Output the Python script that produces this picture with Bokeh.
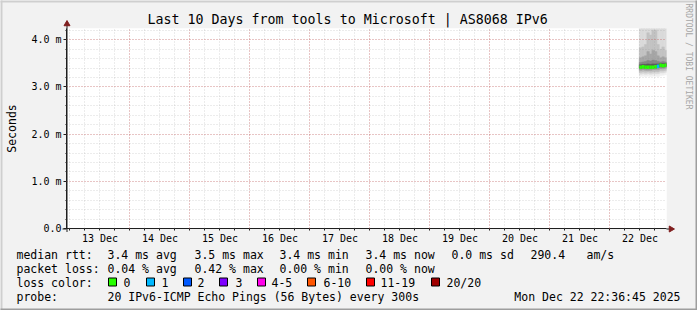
import math
from bokeh.plotting import figure
from bokeh.models import Range1d, FixedTicker, Grid, Title
from bokeh.core.properties import value
from bokeh.embed import file_html
from bokeh.resources import INLINE

# ---------------- data ----------------
title_text = "Last 10 Days from tools to Microsoft | AS8068 IPv6"
day_labels = ["13 Dec", "14 Dec", "15 Dec", "16 Dec", "17 Dec",
              "18 Dec", "19 Dec", "20 Dec", "21 Dec", "22 Dec"]
day_index = [0, 1, 2, 3, 4, 5, 6, 7, 8, 9]          # days after 13 Dec 00:00
ytick_values = [0, 1, 2, 3, 4]                       # milliseconds
ytick_labels = ["0.0", "1.0 m", "2.0 m", "3.0 m", "4.0 m"]

# time axis in hours since 13 Dec 00:00
range_start_h = -1.3875     # Dec 12 22:36:45
range_end_h = 238.6125      # Dec 22 22:36:45
y_max_ms = 4.24

# hourly consolidated samples on 22 Dec (hours since 13 Dec 00:00)
bin_start_h = [227.75, 228.75, 229.75, 230.75, 231.75, 232.75,
               233.75, 234.75, 235.75, 236.75, 237.75]
# sorted-ping quantiles (ms)
ping_01 = [3.22, 3.23, 3.22, 3.23, 3.22, 3.23, 3.23, 3.22, 3.24, 3.25, 3.26]
ping_03 = [3.27, 3.28, 3.27, 3.28, 3.27, 3.28, 3.28, 3.28, 3.30, 3.30, 3.31]
ping_05 = [3.31, 3.32, 3.31, 3.32, 3.31, 3.32, 3.32, 3.32, 3.34, 3.34, 3.35]
ping_07 = [3.35, 3.36, 3.35, 3.35, 3.35, 3.36, 3.36, 3.36, 3.38, 3.38, 3.39]
ping_09 = [3.38, 3.39, 3.38, 3.38, 3.38, 3.39, 3.39, 3.40, 3.41, 3.41, 3.42]
ping_10 = [3.40, 3.41, 3.40, 3.40, 3.40, 3.40, 3.41, 3.42, 3.44, 3.43, 3.44]
median_ms = [3.42, 3.43, 3.42, 3.42, 3.42, 3.42, 3.43, 3.44, 3.46, 3.45, 3.46]
ping_11 = [3.47, 3.48, 3.48, 3.49, 3.48, 3.49, 3.49, 3.49, 3.50, 3.50, 3.50]
ping_12 = [3.52, 3.53, 3.54, 3.56, 3.55, 3.57, 3.56, 3.54, 3.53, 3.54, 3.53]
ping_14 = [3.62, 3.64, 3.66, 3.75, 3.70, 3.78, 3.75, 3.66, 3.62, 3.64, 3.62]
ping_16 = [3.83, 3.85, 3.90, 4.15, 4.10, 4.20, 4.20, 3.90, 3.80, 3.85, 3.78]
ping_18 = [4.30, 4.30, 4.30, 4.30, 4.30, 4.30, 4.30, 4.30, 4.30, 4.30, 4.30]
ping_20 = [4.60, 4.60, 4.60, 4.60, 4.60, 4.60, 4.60, 4.60, 4.60, 4.60, 4.60]
loss_count = [0, 0, 0, 0, 0, 0, 0, 1, 0, 0, 0]

loss_legend_labels = ["0", "1", "2", "3", "4-5", "6-10", "11-19", "20/20"]
loss_legend_colors = ["#26ff00", "#00b8ff", "#0059ff", "#7e00ff",
                      "#ff00ea", "#ff5500", "#ff0000", "#a10000"]
loss_legend_min = [0, 1, 2, 3, 4, 6, 11, 20]

rtt_row = ["median rtt:", "3.4 ms avg", "3.5 ms max", "3.4 ms min",
           "3.4 ms now", "0.0 ms sd", "290.4", "am/s"]
loss_row = ["packet loss:", "0.04 % avg", "0.42 % max", "0.00 % min",
            "0.00 % now"]
probe_row = ["probe:", "20 IPv6-ICMP Echo Pings (56 Bytes) every 300s"]
date_text = "Mon Dec 22 22:36:45 2025"
watermark = "RRDTOOL / TOBI OETIKER"

# ---------------- layout / style ----------------
W, H = 697, 310
FL, FR, FT, FB = 66, 666, 28, 228      # frame edges in canvas px
FONT = "DejaVu Sans Mono"
BACK = "#f2f2f2"
SHADE_A, SHADE_B = "#cfcfcf", "#9e9e9e"
AXIS_C, ARROW_C = "#1f1f1f", "#801f1f"

p = figure(width=W, height=H, output_backend="svg", toolbar_location=None,
           x_range=Range1d(range_start_h, range_end_h),
           y_range=Range1d(0, y_max_ms),
           min_border_left=FL, min_border_right=W - FR,
           min_border_top=FT, min_border_bottom=H - FB)
p.background_fill_color = "#ffffff"
p.border_fill_color = BACK
p.outline_line_color = None
p.xgrid.grid_line_color = None
p.ygrid.grid_line_color = None

# title
p.title = Title(text=title_text, align="left", offset=147 - FL,
                text_font=FONT, text_font_size="13.3px",
                text_font_style="normal", text_color="#000000", standoff=3)

# axes
noon_h = [12 + 24 * d for d in day_index]
six_h = list(range(0, 240, 6))
p.xaxis.ticker = FixedTicker(ticks=noon_h, minor_ticks=six_h)
p.xaxis.major_label_overrides = {h: lab for h, lab in zip(noon_h, day_labels)}
p.yaxis.ticker = FixedTicker(ticks=ytick_values,
                             minor_ticks=[i / 5 for i in range(0, 22)])
p.yaxis.major_label_overrides = {v: lab for v, lab in zip(ytick_values, ytick_labels)}
for ax in (p.xaxis[0], p.yaxis[0]):
    ax.axis_line_color = AXIS_C
    ax.major_tick_line_color = AXIS_C
    ax.minor_tick_line_color = AXIS_C
    ax.major_label_text_font = FONT
    ax.major_label_text_font_size = "10px"
    ax.major_label_text_color = "#000000"
    ax.major_tick_in = 0
    ax.minor_tick_in = 0
p.xaxis.major_tick_out = 0
p.xaxis.minor_tick_out = 2
p.xaxis.major_label_standoff = 2
p.yaxis.major_tick_out = 3
p.yaxis.minor_tick_out = 1
p.yaxis.major_label_standoff = 2
p.yaxis.axis_label = "Seconds"
p.yaxis.axis_label_text_font = FONT
p.yaxis.axis_label_text_font_size = "11.5px"
p.yaxis.axis_label_text_font_style = "normal"
p.yaxis.axis_label_text_color = "#000000"
p.yaxis.axis_label_standoff = 9

# grids (drawn above the smoke, like rrdtool)
midnight_h = [24 * d for d in day_index[1:]]
grid_style = dict(grid_line_color="#de5050", grid_line_alpha=0.5, grid_line_dash="1 2",
                  minor_grid_line_color="#8f8f8f", minor_grid_line_alpha=0.35,
                  minor_grid_line_dash="1 2", level="annotation")
p.add_layout(Grid(dimension=0, ticker=FixedTicker(ticks=midnight_h, minor_ticks=six_h),
                  **grid_style))
p.add_layout(Grid(dimension=1, ticker=FixedTicker(ticks=ytick_values[1:],
                                                  minor_ticks=[i / 5 for i in range(1, 22)]),
                  **grid_style))

# smoke
bin_end_h = [b + 1 for b in bin_start_h]
bands = [(ping_01, ping_20, "#f0f0f0"), (ping_03, ping_18, "#dadada"),
         (ping_05, ping_16, "#c2c2c2"), (ping_07, ping_14, "#a6a6a6"),
         (ping_09, ping_12, "#868686"), (ping_10, ping_11, "#5a5a5a")]
for lo, hi, col in bands:
    p.quad(left=bin_start_h, right=bin_end_h, bottom=lo, top=hi,
           fill_color=col, line_color=col, line_width=0.5)


def loss_color(n):
    c = loss_legend_colors[0]
    for m, col in zip(loss_legend_min, loss_legend_colors):
        if n >= m:
            c = col
    return c


med_colors = [loss_color(n) for n in loss_count]
p.segment(x0=bin_start_h, x1=bin_end_h, y0=median_ms, y1=median_ms,
          line_color=med_colors, line_width=3.5)


# ---------------- decorations outside the frame (overlay level, unclipped) -------
def dx(X):
    return range_start_h + (X - FL) / (FR - FL) * (range_end_h - range_start_h)


def dy(Y):
    return (FB - Y) / (FB - FT) * y_max_ms


def txt(xs, ys, ts, size="11.5px", align="left", color="#000000", angle=0.0):
    p.text(x=[dx(X) for X in xs], y=[dy(Y) for Y in ys], text=ts, angle=angle,
           text_font=value(FONT), text_font_size=value(size), text_color=color,
           text_align=align, text_baseline="middle", level="overlay")


def rect(X0, Y0, X1, Y1, fill, line=None):
    p.quad(left=[dx(X0)], right=[dx(X1)], top=[dy(Y0)], bottom=[dy(Y1)],
           fill_color=fill, line_color=line, line_width=1, level="overlay")


# watermark
txt([688], [56], [watermark], size="8px", align="center", color="#a6a6a6",
    angle=-math.pi / 2)

# axis extensions and arrow heads
p.segment(x0=[dx(66.5), dx(62), dx(666)], y0=[dy(231.5), dy(228.5), dy(228.5)],
          x1=[dx(66.5), dx(66), dx(669)], y1=[dy(23), dy(228.5), dy(228.5)],
          line_color=AXIS_C, line_width=1, level="overlay")
p.scatter(x=[dx(66.5), dx(670.5)], y=[dy(23.5), dy(228.5)], marker="triangle",
          size=6, angle=[0, -math.pi / 2], fill_color=ARROW_C, line_color=ARROW_C,
          level="overlay")

# legend rows
rtt_x = [16, 107, 194, 279, 365, 451, 530, 586]
txt(rtt_x, [254] * len(rtt_row), rtt_row)
loss_x = [16, 107, 194, 279, 365]
txt(loss_x, [268] * len(loss_row), loss_row)
txt([16], [282], ["loss color:"])
box_x = [108, 146, 183, 219, 257, 307, 366, 431]
lab_x = [123, 161, 197, 235, 271, 323, 380, 446]
txt(lab_x, [282] * len(lab_x), loss_legend_labels)
p.quad(left=[dx(b) for b in box_x], right=[dx(b + 8) for b in box_x],
       top=[dy(277.5)] * 8, bottom=[dy(285.5)] * 8,
       fill_color=loss_legend_colors, line_color="#000000", line_width=1,
       level="overlay")
txt([16, 107], [296, 296], probe_row)
txt([680], [296], [date_text], align="right")

# 3D shade border
rect(0, 0, W, 2, SHADE_A)
rect(0, 0, 2, H, SHADE_A)
rect(0, H - 2, W, H, SHADE_B)
rect(W - 2, 0, W, H, SHADE_B)

open("out.html", "w").write(file_html(p, INLINE))
